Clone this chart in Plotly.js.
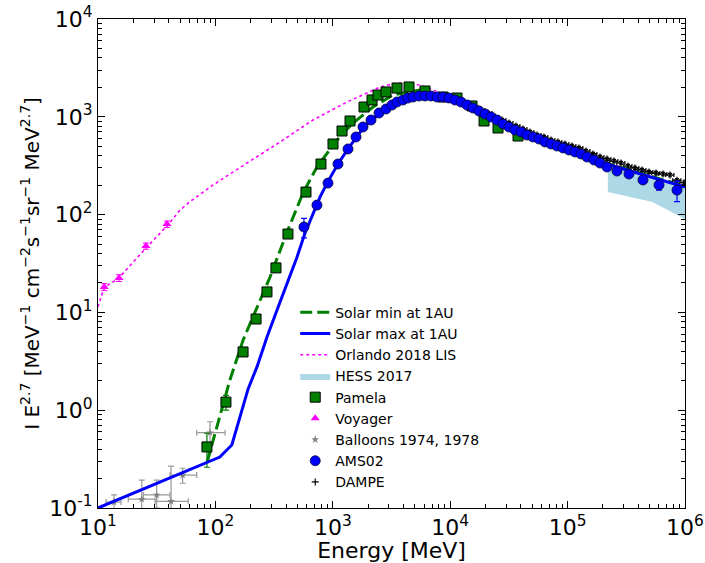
<!DOCTYPE html>
<html><head><meta charset="utf-8">
<script src="https://cdn.plot.ly/plotly-3.0.1.min.js"></script>
<style>html,body{margin:0;padding:0;background:#fff}</style>
</head><body><div id="chart" style="width:705px;height:563px"></div>
<script>
// ---------- data (energies in MeV, intensity I*E^2.7) ----------
const solarMinE = [85, 133, 172, 226, 292, 407, 557, 733, 1086, 1487, 2200, 3256, 5530, 8180, 10570, 14750, 20570, 28180, 39350, 54860, 75100, 104800, 146200, 200300, 279300, 389900, 533400, 744700, 1000000];
const solarMinI = [0.295, 2.04, 5.2, 11.4, 23.0, 66, 166, 307, 579, 864, 1260, 1670, 1880, 1680, 1520, 1255, 1040, 862, 712, 604, 525, 456, 396, 344, 306, 271, 242, 214, 195];

const solarMaxE = [10, 109, 138, 190, 226, 275, 335, 408, 496, 580, 705, 778, 893, 1107, 1347, 1607, 1844, 2158, 2523, 2897, 3258, 3963, 4820, 6100, 8180, 10570, 14750, 20570, 28180, 39350, 54860, 75100, 104800, 146200, 200300, 279300, 389900, 533400, 744700, 1000000];
const solarMaxI = [0.1, 0.332, 0.441, 1.65, 2.77, 5.61, 10.6, 20.0, 36.9, 64.8, 111, 151, 210, 329, 469, 621, 787, 927, 1094, 1202, 1290, 1452, 1556, 1633, 1594, 1486, 1231, 1019, 844, 699, 593, 515, 447, 388, 337, 300, 266, 237, 210, 191];

const lisE = [10, 11.3, 14.8, 25.6, 39.4, 49.9, 60.8, 95.5, 186, 355, 678, 1321, 2523, 3524, 5530, 8180, 10570, 14750, 20570, 28180, 39350, 54860, 75100, 104800, 146200, 200300, 279300, 389900, 533400, 744700, 1000000];
const lisI = [11.4, 18.0, 22.0, 45.5, 78.4, 111, 136, 201, 337, 552, 927, 1416, 2018, 2218, 2113, 1750, 1560, 1270, 1050, 870, 718, 608, 528, 459, 398, 346, 308, 272, 243, 215, 196];

const hessE = [220000, 520000, 1000000];
const hessUpper = [340, 240, 190];
const hessLower = [170, 135, 90];

const pamelaE = [84.7, 123, 172, 222, 275, 328, 415, 591, 793, 1004, 1198, 1402, 1845, 2158, 2427, 2840, 3524, 4459, 6100, 8690, 11430, 15340, 19420, 25550, 37810];
const pamelaI = [0.421, 1.21, 3.94, 8.56, 16.2, 28.5, 63.3, 170, 329, 527, 716, 906, 1259, 1486, 1671, 1795, 1969, 2018, 1836, 1594, 1556, 1290, 906, 768, 636];
const pamelaErr = [0.16, 0.21, 0.3, 0.5, 0.9, 1.5, 3, 8, 14, 20, 25, 30, 40, 45, 50, 55, 60, 60, 55, 48, 47, 40, 30, 25, 20];

const voyagerE = [11.3, 15.1, 25.6, 38.7];
const voyagerI = [18.2, 22.5, 47.7, 80];
const voyagerErr = [1.5, 1.8, 3.5, 6];

const balloonE = [13.7, 23.6, 31.6, 41.9, 52.6, 90];
const balloonI = [0.115, 0.123, 0.136, 0.117, 0.217, 0.589];
const balloonErrYPlus = [0.021, 0.07, 0.057, 0.151, 0.038, 0.173];
const balloonErrYMinus = [0.02, 0.03, 0.036, 0.03, 0.038, 0.165];
const balloonErrXPlus = [2, 8, 9.4, 16.8, 16.7, 31];
const balloonErrXMinus = [2, 5.5, 7.3, 11.3, 11.6, 20.7];

const amsE = [568, 733, 910, 1107, 1347, 1576, 1808, 2116, 2475, 2840, 3194, 3522, 3963, 4370, 4821, 5423, 6100, 6863, 7720, 8683, 9767, 10990, 12360, 13900, 15640, 17590, 19790, 22260, 25040, 28170, 31690, 35650, 40100, 45110, 50750, 57090, 64220, 72240, 81260, 91400, 102800, 115600, 130100, 146300, 167900, 188800, 216600, 263500, 333400, 438700, 600500, 854900];
const amsI = [74.7, 125, 210, 329, 469, 622, 787, 927, 1094, 1202, 1320, 1417, 1485, 1557, 1594, 1632, 1632, 1632, 1594, 1594, 1557, 1485, 1417, 1320, 1230, 1147, 1068, 995, 927, 844, 787, 733, 699, 651, 622, 593, 553, 527, 503, 480, 458, 437, 417, 388, 362, 337, 307, 279, 260, 226, 201, 178];
const amsErr = [17, 4, 5, 6, 8, 10, 12, 14, 16, 18, 19, 20, 21, 22, 23, 23, 23, 23, 22, 22, 21, 20, 19, 18, 17, 16, 15, 14, 13, 12, 11, 10, 10, 9, 9, 8, 8, 8, 8, 7, 7, 7, 7, 7, 7, 7, 8, 8, 9, 12, 23, 42];

const dampeE = [10570, 12110, 13900, 15950, 18290, 20980, 24080, 27620, 31690, 36330, 41690, 47830, 54860, 62950, 72220, 82800, 95000, 109000, 125000, 143500, 164500, 188800, 216600, 248400, 285000, 326900, 375000, 430300, 493500, 566200, 649600, 744900, 854600, 980300];
const dampeI = [1556, 1486, 1352, 1259, 1175, 1094, 995, 927, 864, 805, 750, 699, 652, 621, 579, 552, 527, 502, 480, 447, 417, 388, 371, 353, 337, 314, 300, 286, 273, 266, 260, 254, 225, 212];

// tick labels
const xTickVals = [10, 100, 1000, 10000, 100000, 1000000];
const xTickText = ['10<sup>1</sup>', '10<sup>2</sup>', '10<sup>3</sup>', '10<sup>4</sup>', '10<sup>5</sup>', '10<sup>6</sup>'];
const yTickVals = [0.1, 1, 10, 100, 1000, 10000];
const yTickText = ['10<sup>-1</sup>', '10<sup>0</sup>', '10<sup>1</sup>', '10<sup>2</sup>', '10<sup>3</sup>', '10<sup>4</sup>'];

// minor tick positions (2..9 x each decade)
function minorVals(lo, hi) {
  const v = [];
  for (let d = lo; d < hi; d++) for (let m = 2; m <= 9; m++) v.push(m * Math.pow(10, d));
  return v;
}

// ---------- traces ----------
const hessX = hessE.concat(hessE.slice().reverse());
const hessY = hessUpper.concat(hessLower.slice().reverse());

const traces = [
  {name:'HESS 2017', x:hessX, y:hessY, type:'scatter', mode:'lines', fill:'toself',
   fillcolor:'#add8e6', line:{width:0, color:'#add8e6'}, legendrank:4},
  {name:'Orlando 2018 LIS', x:lisE, y:lisI, type:'scatter', mode:'lines',
   line:{color:'#ff00ff', width:1.6, dash:'dot'}, legendrank:3},
  {name:'Balloons 1974, 1978', x:balloonE, y:balloonI, type:'scatter', mode:'markers',
   marker:{symbol:'star', size:6, color:'#808080'},
   error_y:{type:'data', symmetric:false, array:balloonErrYPlus, arrayminus:balloonErrYMinus, color:'#999999', thickness:1.2, width:3},
   error_x:{type:'data', symmetric:false, array:balloonErrXPlus, arrayminus:balloonErrXMinus, color:'#999999', thickness:1.2, width:3},
   legendrank:7},
  {name:'Voyager', x:voyagerE, y:voyagerI, type:'scatter', mode:'markers',
   marker:{symbol:'triangle-up', size:8, color:'#ff00ff'},
   error_y:{type:'data', array:voyagerErr, color:'#ff00ff', thickness:1, width:3},
   legendrank:6},
  {name:'Solar min at 1AU', x:solarMinE, y:solarMinI, type:'scatter', mode:'lines',
   line:{color:'#008000', width:3, dash:'12px,5px'}, legendrank:1},
  {name:'Pamela', x:pamelaE, y:pamelaI, type:'scatter', mode:'markers',
   marker:{symbol:'square', size:10, color:'#008000', line:{color:'black', width:1}},
   error_y:{type:'data', array:pamelaErr, color:'#008000', thickness:1.2, width:3},
   legendrank:5},
  {name:'DAMPE', x:dampeE, y:dampeI, type:'scatter', mode:'markers',
   marker:{symbol:'cross-thin', size:5, color:'black', line:{color:'black', width:1.2}},
   error_y:{type:'percent', value:4, color:'black', thickness:1.2, width:2},
   error_x:{type:'percent', value:8, color:'black', thickness:1.2, width:2},
   legendrank:9},
  {name:'Solar max at 1AU', x:solarMaxE, y:solarMaxI, type:'scatter', mode:'lines',
   line:{color:'#0000ff', width:3}, legendrank:2},
  {name:'AMS02', x:amsE, y:amsI, type:'scatter', mode:'markers',
   marker:{symbol:'circle', size:10, color:'#0000ff', line:{color:'#000033', width:0.8}},
   error_y:{type:'data', array:amsErr, color:'#0000ff', thickness:1.2, width:3},
   legendrank:8}
];

const axisCommon = {
  type:'log', tickmode:'array', showgrid:false, zeroline:false,
  ticks:'inside', ticklen:7, tickwidth:1, tickcolor:'black',
  mirror:'ticks', showline:true, linecolor:'black', linewidth:1,
  tickfont:{size:22, color:'black'}
};

const layout = {
  width:705, height:563,
  margin:{l:98, r:20, t:19, b:55, autoexpand:false},
  paper_bgcolor:'white', plot_bgcolor:'white',
  font:{family:'DejaVu Sans, sans-serif', color:'black'},
  showlegend:true,
  legend:{x:0.336, y:0.432, xanchor:'left', yanchor:'top', bgcolor:'rgba(0,0,0,0)',
          font:{size:14}, traceorder:'normal'},
  xaxis:Object.assign({}, axisCommon, {range:[1,6], automargin:false,
          tickvals:xTickVals, ticktext:xTickText,
          minor:{tickmode:'array', tickvals:minorVals(1,6), ticks:'inside', ticklen:4, tickcolor:'black', showgrid:false},
          title:{text:'Energy [MeV]', font:{size:22}, standoff:9}}),
  yaxis:Object.assign({}, axisCommon, {range:[-1,4], automargin:false,
          tickvals:yTickVals, ticktext:yTickText,
          minor:{tickmode:'array', tickvals:minorVals(-1,4), ticks:'inside', ticklen:4, tickcolor:'black', showgrid:false},
          title:{text:'I E<sup>2.7</sup> [MeV<sup>\u22121</sup> cm<sup>\u22122</sup>s<sup>\u22121</sup>sr<sup>\u22121</sup> MeV<sup>2.7</sup>]', font:{size:20}, standoff:4}})
};

Plotly.newPlot('chart', traces, layout, {displayModeBar:false, staticPlot:true});
</script></body></html>
